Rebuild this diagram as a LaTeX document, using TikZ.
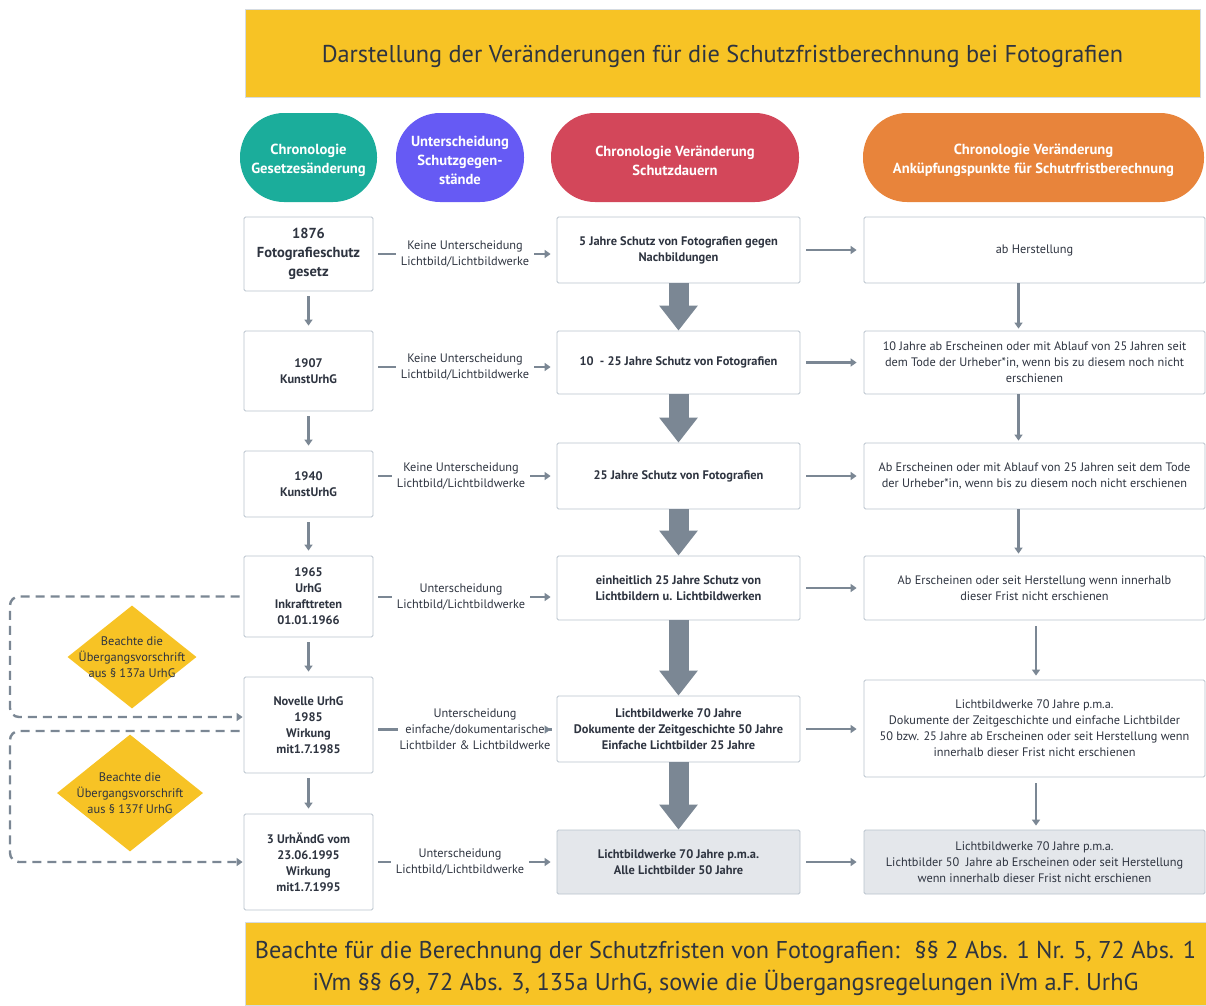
\documentclass[tikz,border=0pt]{standalone}
\usepackage{fontspec}
\setmainfont{PT Sans}
\usetikzlibrary{arrows.meta,positioning,shapes.geometric}
\definecolor{ink}{HTML}{2E3440}
\definecolor{frame}{HTML}{B9C3CD}
\definecolor{arrowgray}{HTML}{7B8794}
\definecolor{sunbg}{HTML}{F7C325}
\definecolor{tealbg}{HTML}{1BAD9B}
\definecolor{violetbg}{HTML}{665AF4}
\definecolor{redbg}{HTML}{D3475A}
\definecolor{orangebg}{HTML}{E8843B}
\definecolor{greybox}{HTML}{E4E7EB}
\tikzset{
  banner/.style={draw=frame!60,fill=sunbg,line width=0.5pt,align=center,
                 text=ink,inner sep=0pt,font=\fontsize{24.3}{32}\selectfont},
  pill/.style={rounded corners=44pt,minimum height=89pt,inner sep=0pt,
               align=center,text=white,text height=35.5pt,
               font=\fontsize{14.6}{19}\selectfont\bfseries},
  lawbox/.style={draw=frame,fill=white,line width=0.8pt,rounded corners=1.5pt,
                 align=center,inner sep=0pt,minimum width=129pt,text=ink,
                 font=\fontsize{12.4}{16}\selectfont\bfseries},
  periodbox/.style={draw=frame,fill=white,line width=0.8pt,rounded corners=1.5pt,
                    align=center,inner sep=0pt,minimum width=243pt,text=ink,
                    font=\fontsize{12.4}{16}\selectfont\bfseries},
  pointbox/.style={draw=frame,fill=white,line width=0.8pt,rounded corners=1.5pt,
                   align=center,inner sep=0pt,minimum width=341pt,text=ink,
                   font=\fontsize{12.3}{16}\selectfont},
  splitlabel/.style={align=center,inner sep=5pt,text=ink,
                     font=\fontsize{12.3}{16}\selectfont},
  hintdiamond/.style={diamond,fill=sunbg,inner sep=0pt},
  hinttext/.style={align=center,text=ink,font=\fontsize{12.4}{16}\selectfont},
  thinline/.style={line width=2.4pt,draw=arrowgray},
  thinarr/.style={-{Triangle[length=6pt,width=8pt]},line width=2.4pt,
                  draw=arrowgray},
  bigarr/.style={-{Triangle[length=25pt,width=37pt]},line width=20pt,
                 draw=arrowgray},
  looparr/.style={-{Triangle[length=6pt,width=8pt]},line width=2.4pt,
                  draw=arrowgray,dashed,dash pattern=on 9pt off 6pt,
                  rounded corners=9pt}
}

\begin{document}
\begin{tikzpicture}[x=1pt,y=-1pt,>=Stealth]
    \path[use as bounding box] (0,0) rectangle (1206,1005);

    \node[banner,minimum width=955pt,minimum height=88pt,text height=24pt] (title) at (722.5,53)
      {Darstellung der Veränderungen für die Schutzfristberechnung bei Fotografien};

    \node[pill,fill=tealbg,minimum width=137pt] (hlaw) at (308.5,157.5)
      {Chronologie\\Gesetzesänderung};
    \node[pill,fill=violetbg,minimum width=128pt,text height=54.5pt] (hsplit) at (460,157.5)
      {Unterscheidung\\Schutzgegen-\\stände};
    \node[pill,fill=redbg,minimum width=248pt] (hperiod) at (675,157.5)
      {Chronologie Veränderung\\Schutzdauern};
    \node[pill,fill=orangebg,minimum width=341pt] (hpoint) at (1033.5,157.5)
      {Chronologie Veränderung\\Anküpfungspunkte für Schutrfristberechnung};

    \node[lawbox,minimum height=74pt,font=\fontsize{14.5}{19}\selectfont\bfseries]
      (l1) at (308.5,254) {1876\\Fotografieschutz\\gesetz};
    \node[lawbox,minimum height=80pt] (l2) at (308.5,371) {1907\\KunstUrhG};
    \node[lawbox,minimum height=66pt] (l3) at (308.5,484) {1940\\KunstUrhG};
    \node[lawbox,minimum height=81pt] (l4) at (308.5,596.5)
      {1965\\UrhG\\Inkrafttreten\\01.01.1966};
    \node[lawbox,minimum height=96pt] (l5) at (308.5,725)
      {Novelle UrhG\\1985\\Wirkung\\mit1.7.1985};
    \node[lawbox,minimum height=96pt] (l6) at (308.5,862)
      {3 UrhÄndG vom\\23.06.1995\\Wirkung\\mit1.7.1995};

    \node[splitlabel] (t1) at (465,254) {Keine Unterscheidung\\Lichtbild/Lichtbildwerke};
    \node[splitlabel] (t2) at (465,367) {Keine Unterscheidung\\Lichtbild/Lichtbildwerke};
    \node[splitlabel] (t3) at (461,476) {Keine Unterscheidung\\Lichtbild/Lichtbildwerke};
    \node[splitlabel] (t4) at (461,597) {Unterscheidung\\Lichtbild/Lichtbildwerke};
    \node[splitlabel,inner sep=1pt] (t5) at (475,729.5)
      {Unterscheidung\\einfache/dokumentarische\\Lichtbilder \& Lichtbildwerke};
    \node[splitlabel] (t6) at (460,862) {Unterscheidung\\Lichtbild/Lichtbildwerke};

    \node[periodbox,minimum height=66pt] (m1) at (678.5,250)
      {5 Jahre Schutz von Fotografien gegen\\Nachbildungen};
    \node[periodbox,minimum height=63pt] (m2) at (678.5,362.5)
      {10 \ - 25 Jahre Schutz von Fotografien};
    \node[periodbox,minimum height=66pt] (m3) at (678.5,476)
      {25 Jahre Schutz von Fotografien};
    \node[periodbox,minimum height=64pt] (m4) at (678.5,588)
      {einheitlich 25 Jahre Schutz von\\Lichtbildern u. Lichtbildwerken};
    \node[periodbox,minimum height=66pt] (m5) at (678.5,729)
      {Lichtbildwerke 70 Jahre\\Dokumente der Zeitgeschichte 50 Jahre\\Einfache Lichtbilder 25 Jahre};
    \node[periodbox,minimum height=64pt,fill=greybox] (m6) at (678.5,862)
      {Lichtbildwerke 70 Jahre p.m.a.\\Alle Lichtbilder 50 Jahre};

    \node[pointbox,minimum height=66pt] (r1) at (1034.5,250) {ab Herstellung};
    \node[pointbox,minimum height=63pt] (r2) at (1034.5,362.5)
      {10 Jahre ab Erscheinen oder mit Ablauf von 25 Jahren seit\\dem Tode der Urheber*in, wenn bis zu diesem noch nicht\\erschienen};
    \node[pointbox,minimum height=66pt] (r3) at (1034.5,476)
      {Ab Erscheinen oder mit Ablauf von 25 Jahren seit dem Tode\\der Urheber*in, wenn bis zu diesem noch nicht erschienen};
    \node[pointbox,minimum height=64pt] (r4) at (1034.5,588)
      {Ab Erscheinen oder seit Herstellung wenn innerhalb\\dieser Frist nicht erschienen};
    \node[pointbox,minimum height=97pt] (r5) at (1034.5,728.5)
      {Lichtbildwerke 70 Jahre p.m.a.\\Dokumente der Zeitgeschichte und einfache Lichtbilder\\50 bzw. 25 Jahre ab Erscheinen oder seit Herstellung wenn\\innerhalb dieser Frist nicht erschienen};
    \node[pointbox,minimum height=64pt,fill=greybox] (r6) at (1034.5,862)
      {Lichtbildwerke 70 Jahre p.m.a.\\Lichtbilder 50 \ Jahre ab Erscheinen oder seit Herstellung\\wenn innerhalb dieser Frist nicht erschienen};

    \node[hintdiamond,minimum width=129pt,minimum height=103pt,
          label={[hinttext]center:{Beachte die\\Übergangsvorschrift\\aus § 137a UrhG}}]
      (d1) at (132,657) {};
    \node[hintdiamond,minimum width=146pt,minimum height=117pt,
          label={[hinttext]center:{Beachte die\\Übergangsvorschrift\\aus § 137f UrhG}}]
      (d2) at (130,793) {};
    \coordinate (loopa) at (10,657);
    \coordinate (loopb) at (10,793);

    \node[banner,minimum width=961pt,minimum height=83pt,text height=60pt] (note) at (725.5,963.5)
      {Beachte für die Berechnung der Schutzfristen von Fotografien: \ §§ 2 Abs. 1 Nr. 5, 72 Abs. 1\\iVm §§ 69, 72 Abs. 3, 135a UrhG, sowie die Übergangsregelungen iVm a.F. UrhG};

    \foreach \a/\b in {l1/l2,l2/l3,l3/l4,l4/l5,l5/l6}
      \draw[thinarr,shorten <=5pt,shorten >=5pt] (\a) -- (\b);

    \foreach \i in {1,...,6} {
      \draw[thinline,shorten <=5pt] (t\i.west -| l\i.east) -- (t\i.west);
      \draw[thinarr,shorten >=6pt] (t\i.east) -- (t\i.east -| m\i.west);
      \draw[thinarr,shorten <=6pt,shorten >=7pt] (m\i.east) -- (m\i.east -| r\i.west);
    }

    \foreach \a/\b in {m1/m2,m2/m3,m3/m4,m4/m5,m5/m6}
      \draw[bigarr] (\a) -- (\b);

    \foreach \a/\b in {r1/r2,r2/r3,r3/r4}
      \draw[thinarr,shorten >=2pt] ([xshift=-16pt]\a.south) -- ([xshift=-16pt]\b.north);
    \foreach \a/\b in {r4/r5,r5/r6}
      \draw[thinarr,shorten <=6pt,shorten >=4pt] ([xshift=1.5pt]\a.south) -- ([xshift=1.5pt]\b.north);

    \draw[looparr,shorten <=4pt,shorten >=1pt] (l4.west) -| (loopa) |- ([yshift=8pt]l5.west);
    \draw[looparr,shorten <=4pt,shorten >=1pt] ([yshift=-6pt]l5.west) -| (loopb) |- (l6.west);
  \end{tikzpicture}
\end{document}
